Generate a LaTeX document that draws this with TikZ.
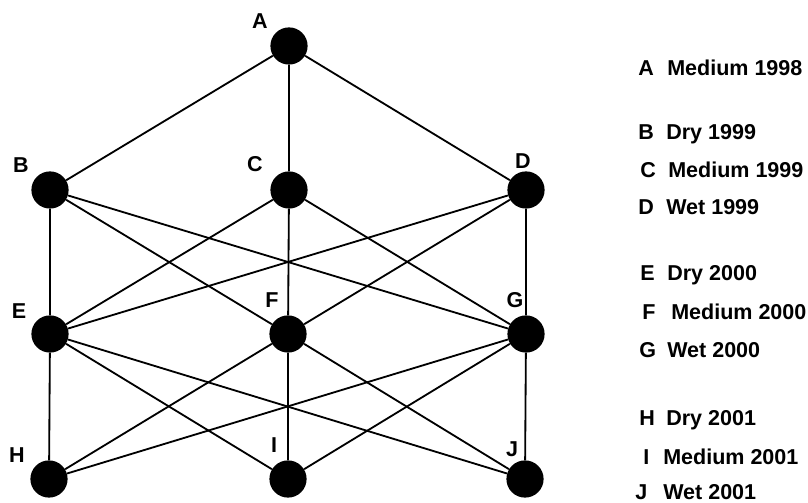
\documentclass[tikz,border=0pt]{standalone}
\usepackage{fontspec}
\setmainfont{Liberation Sans}
\tikzset{
    dot/.style={circle, fill=black, inner sep=0pt, minimum size=0.93cm},
    tag/.style={font=\fontsize{15.3}{17}\selectfont\bfseries, inner sep=0pt, text height=10.9pt, text depth=0pt},
    edge/.style={line width=1.3pt}
}
\begin{document}
\begin{tikzpicture}[x=0.025cm, y=-0.025cm]
        \useasboundingbox (0,0) rectangle (808,503);
        % dots
        \node [dot] (A) at (289,46) {};
        \node [dot] (B) at (50,190) {};\node [dot] (C) at (289,190) {};\node [dot] (D) at (526,190) {};
        \node [dot] (E) at (50,334) {};\node [dot] (F) at (288,334) {};\node [dot] (G) at (526,334) {};
        \node [dot] (H) at (49,479) {};\node [dot] (I) at (288,479) {};\node [dot] (J) at (525,479) {};
        % line
        \foreach \u in {B,C,D} \draw [edge] (A) -- (\u);
        \foreach \u in {B,C,D} {\foreach \v in {E,F,G} \draw [edge] (\u) -- (\v);}
        \foreach \u in {E,F,G} {\foreach \v in {H,I,J} \draw [edge] (\u) -- (\v);}
        % lecter
        \node [tag] (la) at (260,21) {A};
        \node [tag] (lb) at (21,165) {B};\node [tag] (lc) at (255,164) {C};\node [tag] (ld) at (523,161) {D};
        \node [tag] (le) at (19,311) {E};\node [tag] (lf) at (272,300) {F};\node [tag] (lg) at (515,300) {G};
        \node [tag] (lh) at (17,455) {H};\node [tag] (li) at (274,445) {I};\node [tag] (lj) at (512,449) {J};
        % legend
        \node [tag, anchor=west] (ka) at (638,68) {A};\node [tag, anchor=west] (ta) at (667,68) {Medium 1998};
        \node [tag, anchor=west] (kb) at (638,132) {B};\node [tag, anchor=west] (tb) at (666,132) {Dry 1999};
        \node [tag, anchor=west] (kc) at (640,170) {C};\node [tag, anchor=west] (tc) at (668,170) {Medium 1999};
        \node [tag, anchor=west] (kd) at (638,207) {D};\node [tag, anchor=west] (td) at (666,207) {Wet 1999};
        \node [tag, anchor=west] (ke) at (640,273) {E};\node [tag, anchor=west] (te) at (667,273) {Dry 2000};
        \node [tag, anchor=west] (kf) at (642,312) {F};\node [tag, anchor=west] (tf) at (671,312) {Medium 2000};
        \node [tag, anchor=west] (kg) at (639,350) {G};\node [tag, anchor=west] (tg) at (667,350) {Wet 2000};
        \node [tag, anchor=west] (kh) at (639,418) {H};\node [tag, anchor=west] (th) at (666,418) {Dry 2001};
        \node [tag, anchor=west] (ki) at (643,457) {I};\node [tag, anchor=west] (ti) at (663,457) {Medium 2001};
        \node [tag, anchor=west] (kj) at (635,492) {J};\node [tag, anchor=west] (tj) at (663,492) {Wet 2001};
    \end{tikzpicture}
\end{document}
